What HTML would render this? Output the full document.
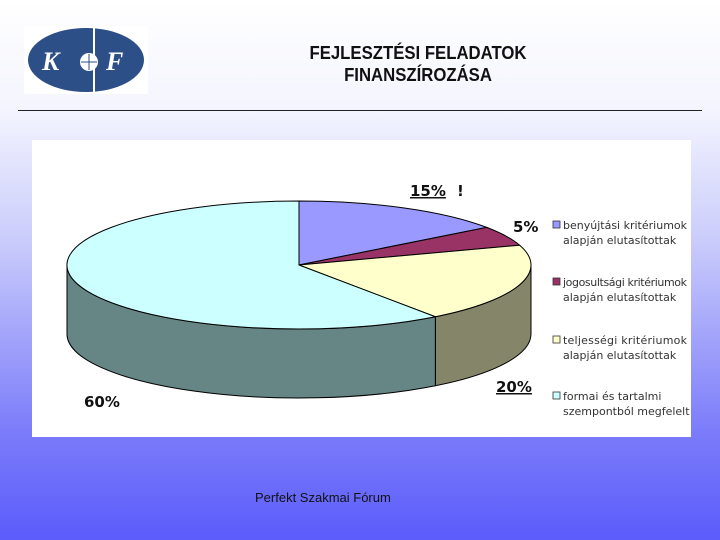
<!DOCTYPE html>
<html><head><meta charset="utf-8"><style>
body{margin:0;width:720px;height:540px;overflow:hidden;background:linear-gradient(#ffffff 0%,#f4f5fe 20%,#c9cbfb 45%,#7b7cfa 80%,#5b5cfb 100%);font-family:"Liberation Sans",sans-serif;position:relative}
.t{position:absolute;left:218px;width:400px;text-align:center;font-size:18px;font-weight:bold;color:#111;line-height:22px;transform:scaleX(0.93)}
</style></head><body>
<svg style="position:absolute;left:24px;top:26px" width="124" height="68">
<rect x="0" y="0" width="124" height="68" fill="#fff"/>
<ellipse cx="62" cy="34" rx="58" ry="32" fill="#2b4f86"/>
<line x1="70" y1="2" x2="70" y2="66" stroke="#fff" stroke-width="2"/>
<circle cx="65" cy="36" r="9" fill="#fff"/>
<line x1="57" y1="36" x2="73" y2="36" stroke="#2b4f86"/><line x1="65" y1="28" x2="65" y2="44" stroke="#2b4f86"/>
<text x="18" y="44" font-family="Liberation Serif" font-style="italic" font-weight="bold" font-size="26" fill="#fff">K</text>
<text x="82" y="44" font-family="Liberation Serif" font-style="italic" font-weight="bold" font-size="26" fill="#fff">F</text>
</svg>
<div class="t" style="top:42px">FEJLESZTÉSI FELADATOK<br>FINANSZÍROZÁSA</div>
<div style="position:absolute;left:18px;top:110px;width:684px;height:1px;background:#222"></div>
<svg id="chart" style="position:absolute;left:0;top:0" width="720" height="540"></svg>
<div style="position:absolute;left:255px;top:490px;font-size:13px;color:#111">Perfekt Szakmai Fórum</div>
<script>
const categories=["benyújtási kritériumok|alapján elutasítottak","jogosultsági kritériumok|alapján elutasítottak","teljességi kritériumok|alapján elutasítottak","formai és tartalmi|szempontból megfelelt"];
const values=[15,5,20,60];
const topColors=["#9999ff","#993366","#ffffcc","#ccffff"];
const sideColors=["#6b6bb3","#6b2447","#85856a","#668585"];
const labels=["15%","5%","20%","60%"];
const NS="http://www.w3.org/2000/svg";
const svg=document.getElementById('chart');
function mk(t,a){const e=document.createElementNS(NS,t);for(const k in a)e.setAttribute(k,a[k]);svg.appendChild(e);return e;}
const bg=mk('rect',{x:32,y:140,width:659,height:297,fill:'#fff'});


const cx=299,cy=265,rx=232,ry=64,dep=69;
const total=values.reduce((a,b)=>a+b,0);
function pt(a,d){const r=a*Math.PI/180;return [cx+rx*Math.sin(r),cy-ry*Math.cos(r)+(d||0)];}
let acc=0;const ang=values.map(v=>{const a0=acc/total*360;acc+=v;return [a0,acc/total*360];});
ang.forEach(([a0,a1],i)=>{const s=Math.max(a0,90),e=Math.min(a1,270);if(e<=s)return;
const p1=pt(s),p2=pt(e),p3=pt(e,dep),p4=pt(s,dep);const lg=(e-s)>180?1:0;
const p=mk('path',{d:`M${p1} A${rx},${ry} 0 ${lg} 1 ${p2} L${p3} A${rx},${ry} 0 ${lg} 0 ${p4} Z`,fill:sideColors[i],stroke:'#000','stroke-width':1});

});
ang.forEach(([a0,a1],i)=>{const p1=pt(a0),p2=pt(a1);const lg=(a1-a0)>180?1:0;
const p=mk('path',{d:`M${cx},${cy} L${p1} A${rx},${ry} 0 ${lg} 1 ${p2} Z`,fill:topColors[i],stroke:'#000','stroke-width':1});

});
const lp=[[410,196,true,' !'],[513,232,false,''],[496,392,true,''],[84,407,false,'']];
labels.forEach((l,i)=>{const t=mk('text',{x:lp[i][0],y:lp[i][1],'font-size':15,'font-weight':'bold','font-family':'DejaVu Sans, sans-serif',fill:'#111','text-decoration':lp[i][2]?'underline':'none'});t.textContent=l;


if(lp[i][3]){const bang=mk('text',{x:lp[i][0]+47,y:lp[i][1],'font-size':15,'font-weight':'bold','font-family':'DejaVu Sans, sans-serif',fill:'#111'});bang.textContent='!';

}});
const ly=[229,286,344,400];
categories.forEach((c,i)=>{const r=mk('rect',{x:553,y:ly[i]-8,width:7,height:7,fill:topColors[i],stroke:'#333','stroke-width':0.8});


const [a,b]=c.split('|');const t=mk('text',{x:563,y:ly[i],'font-size':11,'font-family':'DejaVu Sans, sans-serif',fill:'#333',textLength:a.length>21?124:undefined});t.textContent=a;
if(a.length<=21)t.removeAttribute('textLength');


const t2=mk('text',{x:563,y:ly[i]+15,'font-size':11,'font-family':'DejaVu Sans, sans-serif',fill:'#333'});t2.textContent=b;

});
</script>
</body></html>
